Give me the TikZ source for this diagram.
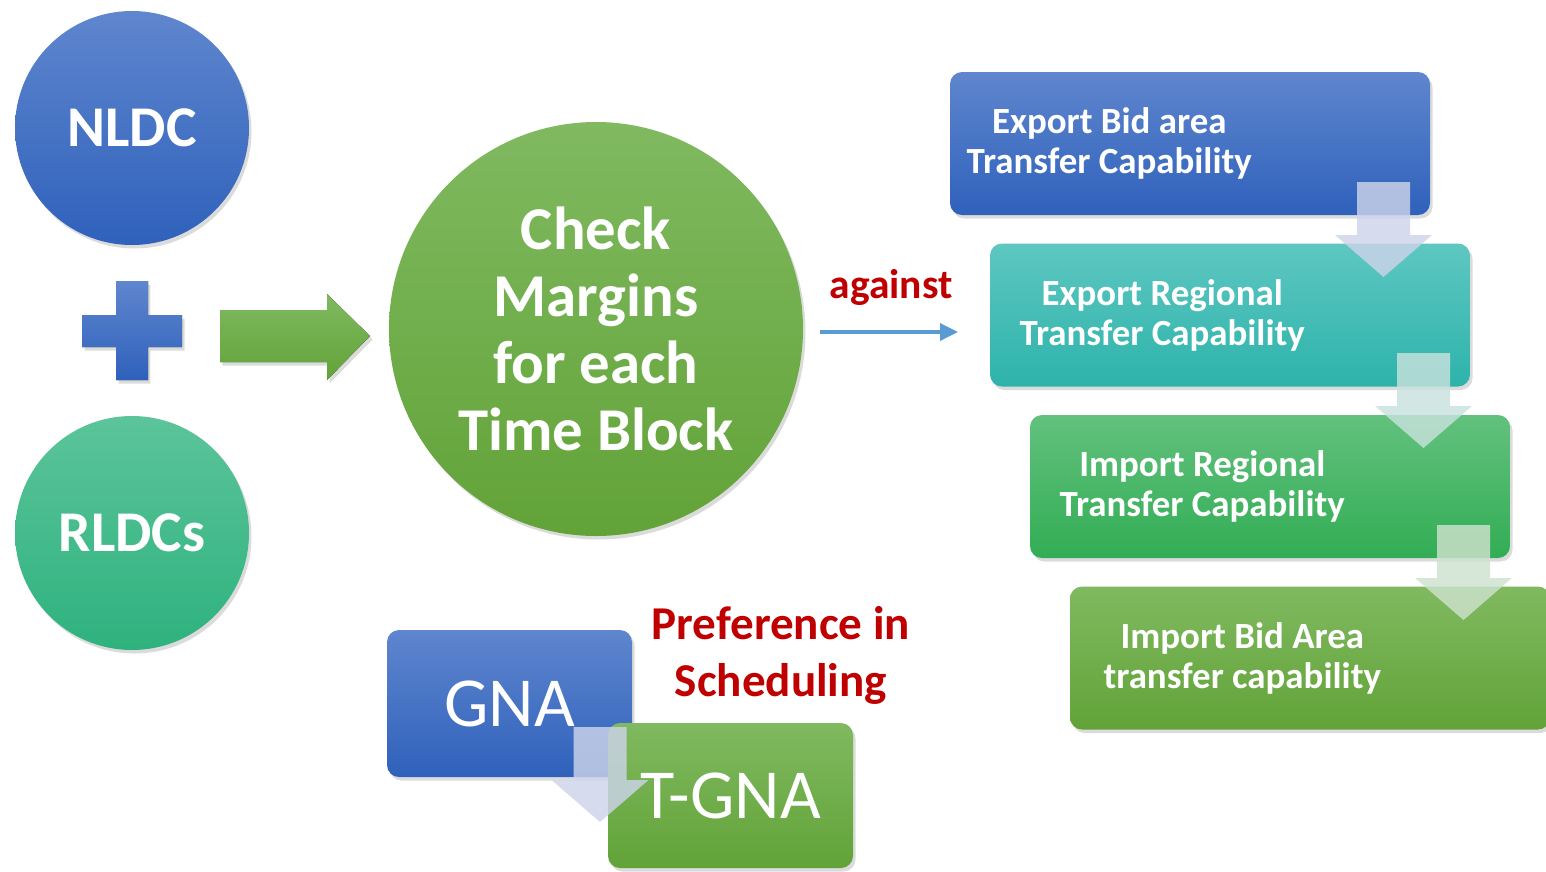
\documentclass[tikz,border=0pt]{standalone}
\usepackage{fontspec}
\setmainfont{Carlito}
\usepackage{tikz}
\usetikzlibrary{shadows, arrows.meta, positioning}

\definecolor{bluetop}{RGB}{95,134,206}
\definecolor{bluebot}{RGB}{47,97,187}
\definecolor{mintop}{RGB}{92,196,154}
\definecolor{minbot}{RGB}{46,178,126}
\definecolor{leaftop}{RGB}{128,185,96}
\definecolor{leafbot}{RGB}{98,163,56}
\definecolor{tealtop}{RGB}{94,199,193}
\definecolor{tealbot}{RGB}{45,179,171}
\definecolor{grntop}{RGB}{98,193,125}
\definecolor{grnbot}{RGB}{50,173,85}
\definecolor{notered}{RGB}{192,0,0}
\definecolor{lineblue}{RGB}{91,155,213}
\definecolor{paleblue}{RGB}{205,212,234}
\definecolor{paleteal}{RGB}{200,226,221}
\definecolor{palegrn}{RGB}{206,226,206}

\tikzset{
	softshadow/.style={drop shadow={fill=black, opacity=0.14, shadow xshift=0.025, shadow yshift=-0.035}},
	ball/.style={circle, softshadow, shading=axis, text=white, font=\fontsize{16.4}{18}\bfseries},
	card/.style={rounded corners=0.12cm, softshadow, shading=axis, minimum width=4.80cm, minimum height=1.43cm},
	cardtext/.style={text=white, align=center, font=\fontsize{10.5}{11.4}\bfseries},
	redtext/.style={text=notered, align=center, font=\fontsize{13.4}{16.2}\bfseries},
}

\newcommand{\dnarrow}[3]{%
	\fill[#3, opacity=0.82] (#1-0.265,#2) -- (#1+0.265,#2) -- (#1+0.265,#2-0.53) -- (#1+0.485,#2-0.53)
	-- (#1,#2-0.95) -- (#1-0.485,#2-0.53) -- (#1-0.265,#2-0.53) -- cycle;}

\begin{document}
\begin{tikzpicture}
	\useasboundingbox (0,0) rectangle (15.46,-8.71);

	% left column
	\node[ball, minimum size=2.34cm, top color=bluetop, bottom color=bluebot] (nldc) at (1.32,-1.28) {NLDC};
	\node[ball, minimum size=2.34cm, top color=mintop, bottom color=minbot] (rldc) at (1.32,-5.33) {RLDCs};
	\fill[softshadow, top color=bluetop, bottom color=bluebot]
	(1.16,-2.81) -- (1.48,-2.81) -- (1.48,-3.15) -- (1.82,-3.15) -- (1.82,-3.47) -- (1.48,-3.47)
	-- (1.48,-3.80) -- (1.16,-3.80) -- (1.16,-3.47) -- (0.82,-3.47) -- (0.82,-3.15) -- (1.16,-3.15) -- cycle;
	\fill[softshadow, top color=leaftop, bottom color=leafbot]
	(2.20,-3.10) -- (3.27,-3.10) -- (3.27,-2.94) -- (3.70,-3.36) -- (3.27,-3.80) -- (3.27,-3.62) -- (2.20,-3.62) -- cycle;

	% centre
	\node[ball, minimum size=4.14cm, top color=leaftop, bottom color=leafbot,
	align=center, font=\fontsize{17.3}{19}\bfseries
	] (check) at (5.96,-3.29) {Check\\Margins\\for each\\Time Block};
	\node[text=notered, font=\fontsize{11.8}{13}\bfseries] (against) at (8.91,-2.87) {against};
	\coordinate (ag1) at (8.20,-3.32);
	\coordinate (ag2) at (9.58,-3.32);
	\draw[lineblue, line width=1pt, -{Triangle[length=1.8mm, width=1.7mm]}] (ag1) -- (ag2);

	% transfer capability cards
	\node[card, top color=bluetop, bottom color=bluebot] (b1) at (11.90,-1.435) {};
	\node[card, top color=tealtop, bottom color=tealbot] (b2) at (12.30,-3.15) {};
	\node[card, top color=grntop, bottom color=grnbot] (b3) at (12.70,-4.865) {};
	\node[card, top color=leaftop, bottom color=leafbot] (b4) at (13.10,-6.58) {};
	\node[cardtext, xshift=1.60cm] (t1) at (b1.west) {Export Bid area\\Transfer Capability};
	\node[cardtext, xshift=1.73cm] (t2) at (b2.west) {Export Regional\\Transfer Capability};
	\node[cardtext, xshift=1.73cm] (t3) at (b3.west) {Import Regional\\Transfer Capability};
	\node[cardtext, xshift=1.73cm] (t4) at (b4.west) {Import Bid Area\\transfer capability};
	\dnarrow{13.835}{-1.82}{paleblue}
	\dnarrow{14.235}{-3.53}{paleteal}
	\dnarrow{14.635}{-5.25}{palegrn}

	% scheduling preference
	\node[card, minimum width=2.45cm, minimum height=1.47cm, top color=bluetop, bottom color=bluebot,
	text=white, font=\fontsize{20}{22}\selectfont
	] (gna) at (5.095,-7.035) {GNA};
	\node[card, minimum width=2.45cm, minimum height=1.45cm, top color=leaftop, bottom color=leafbot,
	text=white, font=\fontsize{20}{22}\selectfont
	] (tgna) at (7.305,-7.955) {T-GNA};
	\dnarrow{6.00}{-7.27}{paleblue}
	\node[redtext] (pref) at (7.81,-6.55) {Preference in\\Scheduling};
\end{tikzpicture}
\end{document}
